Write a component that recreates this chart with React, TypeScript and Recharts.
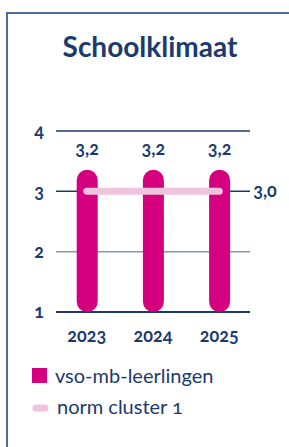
import React from 'react';
import { ComposedChart, Bar, Line, XAxis, YAxis, CartesianGrid, LabelList } from 'recharts';

const years = ['2023', '2024', '2025'];
const leerlingen = [3.2, 3.2, 3.2];
const normCluster = [3.0, 3.0, 3.0];
const yTicks = [1, 2, 3, 4];
const seriesNames = ['vso-mb-leerlingen', 'norm cluster 1'];
const title = 'Schoolklimaat';

const data = years.map((year, i) => ({ year, leerlingen: leerlingen[i], norm: normCluster[i] }));

const NAVY = '#1c3a6c';
const SLATE = '#8797b2';
const MAGENTA = '#d5007f';
const PINK = '#f1c4dd';
const BORDER = '#4f6d9c';
const FONT = 'Lato, "Open Sans", sans-serif';
const NUM: React.CSSProperties = { fontVariantNumeric: 'oldstyle-nums', fontFeatureSettings: '"onum" 1' };
const NUMSIZE = 18;

const fmt = (v: number) => v.toFixed(1).replace('.', ',');

const RoundBar = (props: any) => {
  const { x, y, width, height, fill } = props;
  const r = width / 2;
  const ext = r - 1;
  return <rect x={x} y={y - ext} width={width} height={height + ext} rx={r} ry={r} fill={fill} />;
};

const BarValueLabel = (props: any) => {
  const { x, y, width, value } = props;
  return (
    <text x={x + width / 2} y={y - 24} textAnchor="middle" fill={NAVY} fontFamily={FONT} fontWeight={700} fontSize={NUMSIZE} style={NUM}>
      {fmt(Number(value))}
    </text>
  );
};

const NormLabel = (props: any) => {
  const { x, y, value, index } = props;
  if (index !== years.length - 1) return null;
  return (
    <text x={x + 34} y={y} dy="0.3em" textAnchor="start" fill={NAVY} fontFamily={FONT} fontWeight={700} fontSize={NUMSIZE} style={NUM}>
      {fmt(Number(value))}
    </text>
  );
};

const gridColors = [NAVY, SLATE, NAVY, NAVY];

const GridLine = (props: any) => {
  const { x1, x2, y1, y2, index } = props;
  const c = gridColors[index] ?? NAVY;
  return <line x1={x1} x2={x2} y1={y1} y2={y2} stroke={c} strokeWidth={index === 0 ? 2 : 1.5} />;
};

export default function App() {
  return (
    <div style={{ position: 'absolute', left: 0, top: 0, width: 289, height: 447, overflow: 'hidden', background: '#fff' }}>
      <div style={{ position: 'absolute', left: 6, top: 12, width: 320, height: 460, borderLeft: `2px solid ${BORDER}`, borderTop: `2px solid ${BORDER}` }} />
      <ComposedChart
        width={289}
        height={447}
        data={data}
        margin={{ top: 131, right: 39, bottom: 105, left: 0 }}
        style={{ position: 'absolute', left: 0, top: 0 }}
      >
        <CartesianGrid vertical={false} horizontal={(p: any) => <GridLine {...p} key={p.key} />} />
        <XAxis
          dataKey="year"
          height={30}
          axisLine={false}
          tickLine={false}
          tickSize={0}
          tickMargin={17}
          padding={{ left: -2.3, right: -2.3 }}
          tick={{ fill: NAVY, fontFamily: FONT, fontWeight: 700, fontSize: NUMSIZE, style: NUM } as any}
        />
        <YAxis
          type="number"
          domain={[1, 4]}
          ticks={yTicks}
          width={56}
          axisLine={false}
          tickLine={false}
          tickSize={0}
          tickMargin={17}
          tick={{ fill: NAVY, fontFamily: FONT, fontWeight: 700, fontSize: NUMSIZE, textAnchor: 'middle', style: NUM } as any}
        />
        <Bar dataKey="leerlingen" name={seriesNames[0]} fill={MAGENTA} barSize={21} shape={RoundBar} isAnimationActive={false}>
          <LabelList dataKey="leerlingen" content={BarValueLabel} />
        </Bar>
        <Line
          dataKey="norm"
          name={seriesNames[1]}
          stroke={PINK}
          strokeWidth={7}
          strokeLinecap="round"
          dot={false}
          activeDot={false}
          isAnimationActive={false}
        >
          <LabelList dataKey="norm" content={NormLabel} />
        </Line>
      </ComposedChart>
      <svg width={289} height={447} style={{ position: 'absolute', left: 0, top: 0, pointerEvents: 'none' }}>
        <text x={150} y={57} textAnchor="middle" fill={NAVY} fontFamily={FONT} fontWeight={700} fontSize={28}>
          {title}
        </text>
        <rect x={32} y={368} width={15} height={15} fill={MAGENTA} />
        <text x={55} y={383} fill={NAVY} fontFamily={FONT} fontSize={20}>
          {seriesNames[0]}
        </text>
        <line x1={36} x2={45} y1={408} y2={408} stroke={PINK} strokeWidth={7} strokeLinecap="round" />
        <text x={57} y={414} fill={NAVY} fontFamily={FONT} fontSize={20} style={NUM}>
          {seriesNames[1]}
        </text>
      </svg>
    </div>
  );
}
